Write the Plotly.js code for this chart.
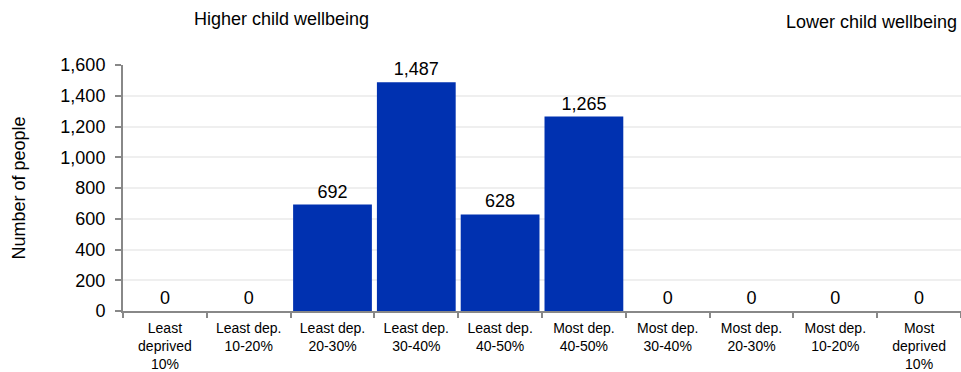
<!DOCTYPE html>
<html>
<head>
<meta charset="utf-8">
<script src="https://cdn.plot.ly/plotly-3.0.1.min.js"></script>
<style>
html,body{margin:0;padding:0;background:#fff;}
#chart{width:961px;height:372px;}
</style>
</head>
<body>
<div id="chart"></div>
<script>
const categories = [
  "Least<br>deprived<br>10%",
  "Least dep.<br>10-20%",
  "Least dep.<br>20-30%",
  "Least dep.<br>30-40%",
  "Least dep.<br>40-50%",
  "Most dep.<br>40-50%",
  "Most dep.<br>30-40%",
  "Most dep.<br>20-30%",
  "Most dep.<br>10-20%",
  "Most<br>deprived<br>10%"
];
const people = [0, 0, 692, 1487, 628, 1265, 0, 0, 0, 0];
const yTicks = [0, 200, 400, 600, 800, 1000, 1200, 1400, 1600];
const yTickLabels = ["0", "200", "400", "600", "800", "1,000", "1,200", "1,400", "1,600"];

const font = "Liberation Sans, Arial, Helvetica, sans-serif";

const trace = {
  type: "bar",
  x: categories,
  y: people,
  marker: {color: "#0031B0"},
  text: people.map(v => v.toLocaleString("en-US")),
  textposition: "outside",
  textfont: {family: font, size: 18, color: "#000"},
  cliponaxis: false,
  hoverinfo: "x+y"
};

const layout = {
  width: 961,
  height: 372,
  margin: {l: 123, r: 0, t: 65, b: 61},
  paper_bgcolor: "#fff",
  plot_bgcolor: "#fff",
  bargap: 0.06,
  showlegend: false,
  font: {family: font, color: "#000"},
  xaxis: {
    type: "category",
    tickson: "boundaries",
    ticks: "outside",
    ticklen: 5,
    tickwidth: 2,
    tickcolor: "#888",
    showline: true,
    linecolor: "#888",
    linewidth: 2,
    tickfont: {family: font, size: 14, color: "#000"},
    ticklabelstandoff: 3,
    showgrid: false,
    automargin: false
  },
  yaxis: {
    range: [0, 1600],
    tickvals: yTicks,
    ticktext: yTickLabels,
    ticks: "outside",
    ticklen: 6,
    tickwidth: 2,
    tickcolor: "#888",
    showline: true,
    linecolor: "#888",
    linewidth: 2,
    showgrid: true,
    gridcolor: "#efefef",
    gridwidth: 2,
    zeroline: false,
    tickfont: {family: font, size: 18, color: "#000"},
    ticklabelstandoff: 6,
    title: {text: "Number of people", font: {family: font, size: 18, color: "#000"}, standoff: 30},
    automargin: false
  },
  annotations: [
    {text: "Higher child wellbeing", xref: "paper", yref: "paper", x: 0.189, y: 1.185,
     xanchor: "center", yanchor: "middle", showarrow: false, font: {family: font, size: 18, color: "#000"}},
    {text: "Lower child wellbeing", xref: "paper", yref: "paper", x: 0.998, y: 1.175,
     xanchor: "right", yanchor: "middle", showarrow: false, font: {family: font, size: 18, color: "#000"}}
  ]
};

Plotly.newPlot("chart", [trace], layout, {displayModeBar: false, staticPlot: true});
</script>
</body>
</html>
